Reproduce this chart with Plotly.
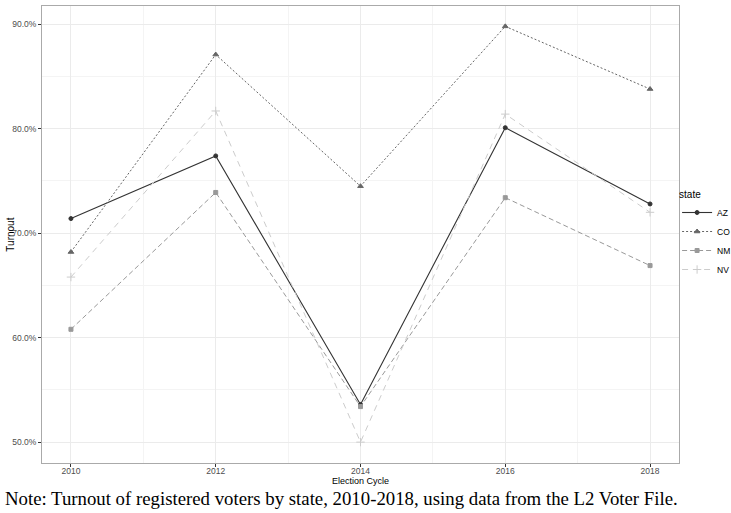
import plotly.graph_objects as go

# turnout of registered voters (%)
years = [2010, 2012, 2014, 2016, 2018]
states = ['AZ', 'CO', 'NM', 'NV']
az = [71.4, 77.4, 53.6, 80.1, 72.8]
co = [68.2, 87.1, 74.5, 89.8, 83.8]
nm = [60.8, 73.9, 53.4, 73.4, 66.9]
nv = [65.8, 81.7, 50.0, 81.4, 72.0]
y_ticks = [50, 60, 70, 80, 90]
caption = 'Note: Turnout of registered voters by state, 2010-2018, using data from the L2 Voter File.'

series = [az, co, nm, nv]
colors = ['#333333', '#666666', '#999999', '#CCCCCC']
dashes = ['solid', '2px,2px', '5px,3px', '6px,5px']
symbols = ['circle', 'triangle-up', 'square', 'cross-thin']
msizes = [4, 5, 4, 6]

fig = go.Figure()
for name, vals, col, dsh, sym, ms in zip(states, series, colors, dashes, symbols, msizes):
    fig.add_trace(go.Scatter(
        x=years, y=vals, name=name, mode='lines+markers',
        line=dict(color=col, dash=dsh, width=1.1 if dsh == 'solid' else 1),
        marker=dict(symbol=sym, size=ms, color=col, line=dict(color=col, width=1)),
    ))

grid = '#EBEBEB'
axis_font = dict(family='Liberation Sans, Arial, sans-serif', size=8.5, color='#4D4D4D')

fig.update_layout(
    width=731, height=513,
    margin=dict(l=42, r=52, t=6, b=50, autoexpand=False),
    paper_bgcolor='white', plot_bgcolor='white',
    font=dict(family='Liberation Sans, Arial, sans-serif', color='black'),
    legend=dict(
        x=0.997, y=0.5, xanchor='left', yanchor='middle',
        bgcolor='rgba(0,0,0,0)',
        title=dict(text='state', font=dict(size=10)),
        font=dict(size=8.5), itemwidth=30, tracegroupgap=0,
    ),
    xaxis=dict(
        range=[2009.6, 2018.4], tickvals=years, ticktext=[str(y) for y in years],
        showgrid=True, gridcolor=grid, gridwidth=1,
        minor=dict(dtick=1, showgrid=True, gridcolor='#F4F4F4', gridwidth=0.6),
        ticks='outside', ticklen=3, tickcolor='#333333', tickfont=axis_font,
        ticklabelstandoff=-3,
        showline=True, mirror=True, linecolor='#AAAAAA', linewidth=1, zeroline=False,
    ),
    yaxis=dict(
        range=[48.0, 91.75], tickvals=y_ticks, ticktext=['%.1f%%' % v for v in y_ticks],
        showgrid=True, gridcolor=grid, gridwidth=1,
        minor=dict(dtick=5, tick0=45, showgrid=True, gridcolor='#F4F4F4', gridwidth=0.6),
        ticks='outside', ticklen=3, tickcolor='#333333', tickfont=axis_font,
        showline=True, mirror=True, linecolor='#AAAAAA', linewidth=1, zeroline=False,
    ),
)

# axis titles and caption
fig.add_annotation(text='Election Cycle', xref='paper', yref='paper', x=0.5, y=-0.0394,
                   xanchor='center', yanchor='middle', showarrow=False,
                   font=dict(size=9, color='black'))
fig.add_annotation(text='Turnout', xref='paper', yref='paper', x=-0.05, y=0.5,
                   xanchor='center', yanchor='middle', textangle=-90, showarrow=False,
                   font=dict(size=10, color='black'))
fig.add_annotation(text=caption, xref='paper', yref='paper', x=-0.061, y=-0.0766,
                   xanchor='left', yanchor='middle', showarrow=False,
                   font=dict(family='Liberation Serif, Times New Roman, serif', size=18.8, color='black'))

fig.write_html("out.html", config={'displayModeBar': False},
               post_script="document.body.style.margin='0';")
